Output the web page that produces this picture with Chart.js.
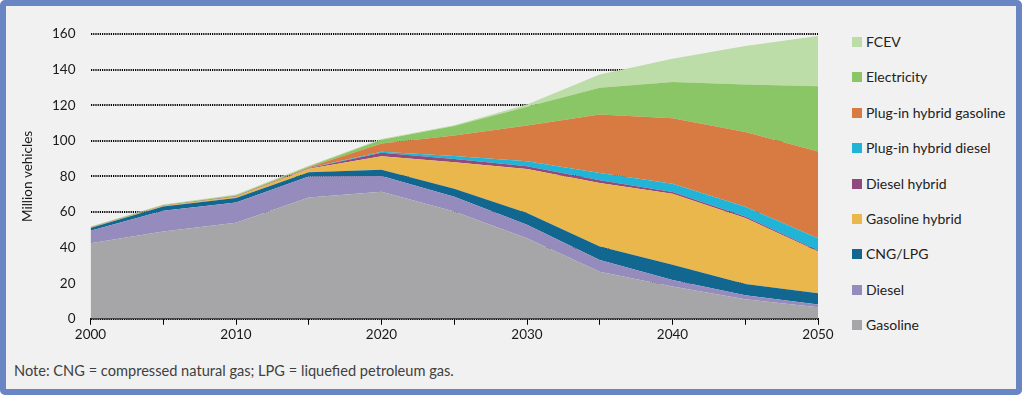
<!DOCTYPE html>
<html>
<head>
<meta charset="utf-8">
<script src="https://cdn.jsdelivr.net/npm/chart.js@4/dist/chart.umd.min.js"></script>
<style>
  html, body { margin: 0; padding: 0; background: #ffffff; }
  #frame { position: absolute; left: 0; top: 0; width: 1022px; height: 395px; box-sizing: border-box;
           border: 6px solid #6a85c3; border-radius: 5px; background: #f1f1f1; }
  #wrap { position: absolute; left: 6px; top: 6px; width: 842px; height: 350px; }
  #legend { position: absolute; left: 0; top: 0; font-family: Lato, "Open Sans", sans-serif; font-size: 14px; color: #222; }
  .li { position: absolute; left: 852px; height: 16px; line-height: 16px; white-space: nowrap; }
  .li span.box { position: absolute; left: 0; top: 3px; width: 10px; height: 10px; }
  .li span.txt { position: absolute; left: 14px; top: 0; }
  #note { position: absolute; left: 14px; top: 362px; font-family: Lato, "Open Sans", sans-serif; font-size: 14.6px; color: #404040; white-space: nowrap; }
</style>
</head>
<body>
<div id="frame"></div>
<div id="wrap"><canvas id="c" width="842" height="350"></canvas></div>
<div id="legend"></div>
<div id="note">Note: CNG = compressed natural gas; LPG = liquefied petroleum gas.</div>
<script>
// Categories (years)
const years = ['2000','2005','2010','2015','2020','2025','2030','2035','2040','2045','2050'];
// Series values, million vehicles (stacked, bottom to top)
const gasoline      = [42.5, 49.0, 54.0, 68.2, 71.4, 60.3, 45.3, 26.5, 18.1, 11.0, 6.5];
const diesel        = [6.9, 11.7, 11.4, 11.8, 8.8, 8.3, 7.5, 6.6, 3.7, 2.2, 1.5];
const cngLpg        = [1.6, 2.4, 2.4, 2.3, 3.6, 4.4, 6.6, 7.5, 8.5, 6.3, 6.4];
const gasolineHyb   = [0.2, 0.3, 0.8, 2.0, 7.5, 15.0, 24.8, 35.7, 40.0, 37.1, 23.4];
const dieselHyb     = [0.1, 0.1, 0.2, 0.3, 2.0, 1.8, 1.5, 1.5, 0.9, 0.9, 0.6];
const phevDiesel    = [0.0, 0.0, 0.0, 0.1, 0.5, 1.7, 2.8, 4.1, 4.7, 5.4, 6.9];
const phevGasoline  = [0.1, 0.1, 0.2, 0.5, 4.7, 11.5, 20.1, 32.9, 36.8, 42.0, 48.7];
const electricity   = [0.2, 0.3, 0.4, 0.4, 2.1, 5.3, 10.5, 15.0, 20.3, 26.7, 36.7];
const fcev          = [0.2, 0.3, 0.4, 0.4, 0.4, 0.5, 1.3, 7.5, 13.1, 21.6, 28.2];

const seriesNames = ['Gasoline','Diesel','CNG/LPG','Gasoline hybrid','Diesel hybrid','Plug-in hybrid diesel','Plug-in hybrid gasoline','Electricity','FCEV'];
const seriesData  = [gasoline, diesel, cngLpg, gasolineHyb, dieselHyb, phevDiesel, phevGasoline, electricity, fcev];
const seriesColors = ['#a6a6a8','#958bbd','#11678f','#e9b74c','#8e4b7c','#22b4d7','#d87b42','#8ac566','#bcdca8'];

const yTicks = [0, 20, 40, 60, 80, 100, 120, 140, 160];

const datasets = seriesNames.map((name, i) => ({
  label: name,
  data: seriesData[i],
  backgroundColor: seriesColors[i],
  borderColor: seriesColors[i],
  borderWidth: 0,
  pointRadius: 0,
  pointHoverRadius: 0,
  tension: 0,
  fill: i === 0 ? 'origin' : '-1'
}));

const chart = new Chart(document.getElementById('c'), {
  type: 'line',
  data: { labels: years, datasets },
  options: {
    responsive: false,
    animation: false,
    events: [],
    layout: { padding: { top: 28, right: 30, left: 0, bottom: 0 } },
    plugins: { legend: { display: false }, tooltip: { enabled: false } },
    scales: {
      x: {
        offset: false,
        grid: { drawOnChartArea: false, drawTicks: true, tickLength: 6, color: '#000', lineWidth: 1 },
        border: { display: true, color: '#000', width: 1.2 },
        ticks: {
          autoSkip: false, maxRotation: 0, padding: 2, color: '#1a1a1a',
          font: { family: 'Lato', size: 13.5 },
          callback: (v, idx) => idx % 2 === 0 ? years[idx] : ''
        },
        afterFit: s => { s.height = 37.2; }
      },
      y: {
        stacked: true,
        min: 0, max: 160,
        afterBuildTicks: s => { s.ticks = yTicks.map(v => ({ value: v })); },
        grid: { drawTicks: false, color: '#000', lineWidth: 2 },
        border: { display: false, dash: [1.2, 1] },
        ticks: { padding: 15, color: '#1a1a1a', font: { family: 'Lato', size: 13.5 } },
        title: { display: true, text: 'Million vehicles', color: '#1a1a1a', font: { family: 'Lato', size: 13.5 }, padding: { top: 14, bottom: 0 } },
        afterFit: s => { s.width = 84.5; }
      }
    }
  }
});

// HTML legend built from the chart's datasets (top to bottom = reverse stack order)
const legend = document.getElementById('legend');
const items = chart.data.datasets.map((d) => ({ label: d.label, color: d.backgroundColor })).reverse();
items.forEach((it, k) => {
  const div = document.createElement('div');
  div.className = 'li';
  div.style.top = (42 - 8 + k * 35.4) + 'px';
  div.innerHTML = '<span class="box" style="background:' + it.color + '"></span><span class="txt"></span>';
  div.querySelector('.txt').textContent = it.label;
  legend.appendChild(div);
});
</script>
</body>
</html>
